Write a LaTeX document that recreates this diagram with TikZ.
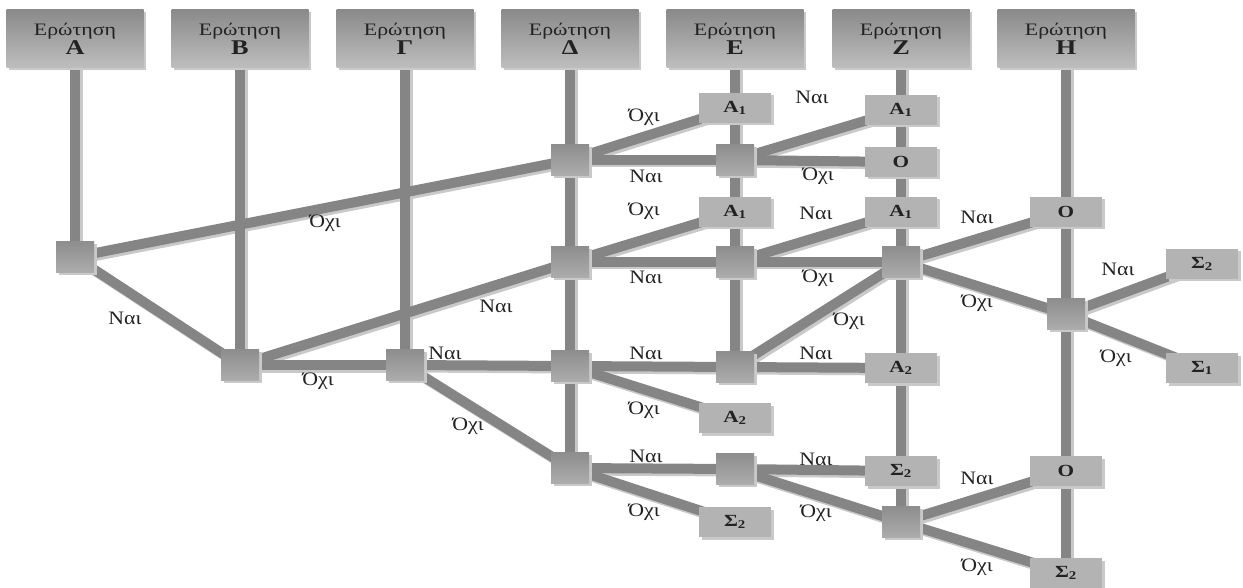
\documentclass[tikz,border=0pt]{standalone}
\usepackage{fontspec}
\setmainfont[FakeStretch=1.25]{Liberation Serif}
\newfontfamily\answerfont[FakeStretch=1.15]{Liberation Serif}
\usetikzlibrary{shadows}
\definecolor{core}{HTML}{858585}
\definecolor{shade}{HTML}{C9C9C9}
\definecolor{leaffill}{HTML}{B3B3B3}
\definecolor{headtop}{HTML}{8A8A8A}
\definecolor{headbot}{HTML}{BEBEBE}
\definecolor{sqtop}{HTML}{8E8E8E}
\definecolor{sqbot}{HTML}{ACACAC}
\definecolor{ink}{HTML}{222222}
\pgfdeclarelayer{links}
\pgfsetlayers{links,main}
\newcommand{\qletter}[1]{{\fontsize{21}{21}\selectfont\bfseries #1}}
\newcommand{\leaftxt}[2]{{\bfseries #1\textsubscript{#2}}}
\begin{document}
\begin{tikzpicture}[x=1pt,y=-1pt,
  nshadow/.style={drop shadow={shadow xshift=2.5pt,shadow yshift=-2.5pt,fill=shade,opacity=1}},
  head/.style={nshadow,draw=none,minimum width=137pt,minimum height=58pt,inner sep=0pt,
    top color=headtop,bottom color=headbot,align=center,text=ink,
    font=\fontsize{17.5}{18.5}\selectfont},
  decision/.style={nshadow,draw=none,minimum width=38pt,minimum height=31pt,inner sep=0pt,
    top color=sqtop,bottom color=sqbot},
  leaf/.style={nshadow,draw=none,fill=leaffill,minimum width=72pt,minimum height=30pt,inner sep=0pt,
    text=ink,font=\fontsize{17}{17}\selectfont\bfseries},
  lbl/.style={text=ink,inner sep=0pt,font=\answerfont\fontsize{19}{19}\selectfont},
  linkshade/.style={draw=shade,line width=10pt,transform canvas={shift={(2.5pt,-2.5pt)}}},
  linkcore/.style={draw=core,line width=10pt}]
\useasboundingbox (0,0) rectangle (1243,588);
\clip (0,0) rectangle (1243,588);

% question headers
\node[head] (hA) at (75,39)   {Ερώτηση\\\qletter{Α}};
\node[head] (hB) at (240,39)  {Ερώτηση\\\qletter{Β}};
\node[head] (hG) at (405,39)  {Ερώτηση\\\qletter{Γ}};
\node[head] (hD) at (570,39)  {Ερώτηση\\\qletter{Δ}};
\node[head] (hE) at (735,39)  {Ερώτηση\\\qletter{Ε}};
\node[head] (hZ) at (901,39)  {Ερώτηση\\\qletter{Ζ}};
\node[head] (hH) at (1066,39) {Ερώτηση\\\qletter{Η}};

% decision points
\node[decision] (sqA)  at (75,257)  {};
\node[decision] (sqB)  at (240,365) {};
\node[decision] (sqG)  at (405,365) {};
\node[decision] (sqD1) at (570,160) {};
\node[decision] (sqD2) at (570,262) {};
\node[decision] (sqD3) at (570,366) {};
\node[decision] (sqD4) at (570,468) {};
\node[decision] (sqE1) at (735,160) {};
\node[decision] (sqE2) at (735,262) {};
\node[decision] (sqE3) at (735,367) {};
\node[decision] (sqE4) at (735,469) {};
\node[decision] (sqZ1) at (901,262) {};
\node[decision] (sqZ2) at (901,522) {};
\node[decision] (sqH)  at (1066,314) {};

% outcomes
\node[leaf] (eA1a) at (735,108) {\leaftxt{Α}{1}};
\node[leaf] (eA1b) at (735,212) {\leaftxt{Α}{1}};
\node[leaf] (eA2)  at (735,418) {\leaftxt{Α}{2}};
\node[leaf] (eS2)  at (735,522) {\leaftxt{Σ}{2}};
\node[leaf] (zA1a) at (901,110) {\leaftxt{Α}{1}};
\node[leaf] (zO)   at (901,162) {Ο};
\node[leaf] (zA1b) at (901,212) {\leaftxt{Α}{1}};
\node[leaf] (zA2)  at (901,368) {\leaftxt{Α}{2}};
\node[leaf] (zS2)  at (901,471) {\leaftxt{Σ}{2}};
\node[leaf] (hO1)  at (1066,212) {Ο};
\node[leaf] (hO2)  at (1066,471) {Ο};
\node[leaf] (hS2b) at (1066,573) {\leaftxt{Σ}{2}};
\node[leaf] (hS2)  at (1202,264) {\leaftxt{Σ}{2}};
\node[leaf] (hS1)  at (1202,368) {\leaftxt{Σ}{1}};

% connectors, drawn behind the boxes
\def\linklist{hA/sqA,hB/sqB,hG/sqG,hD/sqD1,sqD1/sqD2,sqD2/sqD3,sqD3/sqD4,
  hE/eA1a,eA1a/sqE1,sqE1/eA1b,eA1b/sqE2,sqE2/sqE3,
  hZ/zA1a,zA1a/zO,zO/zA1b,zA1b/sqZ1,sqZ1/zA2,zA2/zS2,zS2/sqZ2,
  hH/hO1,hO1/sqH,sqH/hO2,hO2/hS2b,
  sqA/sqD1,sqA/sqB,sqB/sqG,sqB/sqD2,sqG/sqD3,sqG/sqD4,
  sqD1/eA1a,sqD1/sqE1,sqD2/eA1b,sqD2/sqE2,sqD3/sqE3,sqD3/eA2,sqD4/sqE4,sqD4/eS2,
  sqE1/zA1a,sqE1/zO,sqE2/zA1b,sqE2/sqZ1,sqE3/sqZ1,sqE3/zA2,sqE4/zS2,sqE4/sqZ2,
  sqZ1/hO1,sqZ1/sqH,sqH/hS2,sqH/hS1,sqZ2/hO2,sqZ2/hS2b}
\begin{pgfonlayer}{links}
\foreach \a/\b in \linklist {\draw[linkshade] (\a.center) -- (\b.center);}
\foreach \a/\b in \linklist {\draw[linkcore] (\a.center) -- (\b.center);}
\end{pgfonlayer}

% answer labels
\node[lbl] (l01) at (325,223) {Όχι};
\node[lbl] (l02) at (125,318) {Ναι};
\node[lbl] (l03) at (318,381) {Όχι};
\node[lbl] (l04) at (496,306) {Ναι};
\node[lbl] (l05) at (445,353) {Ναι};
\node[lbl] (l06) at (468,426) {Όχι};
\node[lbl] (l07) at (644,117) {Όχι};
\node[lbl] (l08) at (646,176) {Ναι};
\node[lbl] (l09) at (644,211) {Όχι};
\node[lbl] (l10) at (646,277) {Ναι};
\node[lbl] (l11) at (646,353) {Ναι};
\node[lbl] (l12) at (644,410) {Όχι};
\node[lbl] (l13) at (646,456) {Ναι};
\node[lbl] (l14) at (644,512) {Όχι};
\node[lbl] (l15) at (812,97)  {Ναι};
\node[lbl] (l16) at (818,176) {Όχι};
\node[lbl] (l17) at (816,213) {Ναι};
\node[lbl] (l18) at (818,278) {Όχι};
\node[lbl] (l19) at (849,321) {Όχι};
\node[lbl] (l20) at (816,353) {Ναι};
\node[lbl] (l21) at (816,459) {Ναι};
\node[lbl] (l22) at (816,513) {Όχι};
\node[lbl] (l23) at (977,217) {Ναι};
\node[lbl] (l24) at (977,303) {Όχι};
\node[lbl] (l25) at (1118,269) {Ναι};
\node[lbl] (l26) at (1116,358) {Όχι};
\node[lbl] (l27) at (977,478) {Ναι};
\node[lbl] (l28) at (977,567) {Όχι};
\end{tikzpicture}
\end{document}
